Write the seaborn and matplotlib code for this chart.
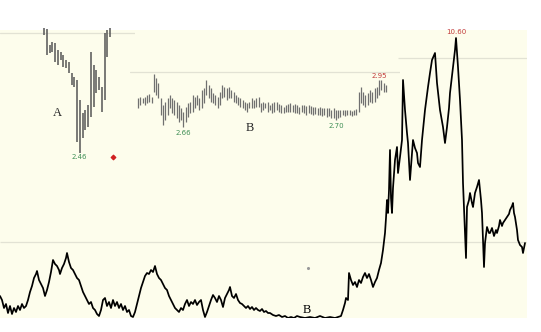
import numpy as np
import pandas as pd
import matplotlib
matplotlib.use("Agg")
import matplotlib.pyplot as plt
import seaborn as sns

# ---------------- main price history (day index, price level) ----------------
main_left = [(0, 22), (2, 18), (4, 10), (6, 14), (8, 5), (10, 12), (12, 4), (14, 10), (16, 6), (18, 12),
             (20, 8), (22, 14), (24, 10), (26, 12), (28, 18), (30, 26), (32, 32), (34, 40), (36, 44), (37, 47),
             (39, 38), (41, 34), (43, 30), (45, 22), (47, 28), (49, 36), (51, 46), (53, 58), (55, 54), (57, 52),
             (59, 48), (60, 44), (62, 50), (64, 54), (66, 60), (67, 65), (69, 56), (71, 50), (73, 48), (75, 44),
             (77, 40), (79, 38), (81, 32), (83, 26), (85, 22), (87, 18), (89, 14), (91, 16), (93, 10), (95, 8),
             (97, 4), (99, 2), (101, 8), (103, 18), (105, 20), (107, 12), (109, 16), (111, 10), (113, 18), (115, 12),
             (117, 16), (119, 10), (121, 14), (123, 8), (125, 12), (127, 6), (129, 8), (131, 2), (133, 1), (135, 6),
             (137, 14), (139, 22), (141, 30), (143, 36), (145, 42), (147, 45), (149, 44), (151, 48), (153, 46), (155, 52),
             (157, 44), (159, 40), (161, 38), (163, 34), (165, 30), (167, 28), (169, 22), (171, 18), (173, 14), (175, 10),
             (177, 8), (179, 6)]
main_mid = [(181, 10), (183, 8), (185, 14), (187, 18), (189, 12), (191, 16), (193, 14), (195, 18), (197, 13), (199, 16),
            (201, 18), (203, 8), (205, 1), (207, 6), (209, 12), (211, 18), (213, 23), (215, 20), (217, 16), (219, 22),
            (221, 18), (223, 11), (225, 20), (227, 24), (229, 28), (230, 31), (232, 22), (234, 20), (236, 24), (238, 18),
            (240, 15), (242, 14), (244, 12), (246, 10), (248, 12), (250, 9), (252, 11), (254, 8), (256, 10), (258, 8),
            (260, 7), (262, 9), (264, 6), (266, 7), (268, 5), (270, 5), (273, 3), (276, 2), (279, 3), (282, 1),
            (285, 2), (288, 0), (291, 1), (294, 0), (297, 2), (300, 1), (305, 0), (310, 1), (315, 0), (320, 2),
            (325, 0), (330, 1), (335, 0), (338, 1)]
main_right = [(341, 2), (343, 8), (345, 15), (346, 20), (348, 18), (349, 45), (351, 38), (353, 33), (355, 36), (357, 31),
              (359, 38), (361, 35), (363, 41), (365, 45), (367, 40), (369, 44), (371, 38), (373, 31), (375, 36), (377, 40),
              (379, 48), (381, 55), (383, 68), (385, 85), (386, 100), (387, 118), (388, 105), (389, 128), (390, 168), (391, 120),
              (392, 105), (393, 130), (395, 158), (397, 171), (398, 145), (400, 161), (402, 178), (403, 238), (405, 208), (407, 185),
              (408, 175), (410, 138), (413, 178), (415, 170), (417, 165), (418, 155), (420, 151), (422, 178), (425, 208), (428, 231),
              (430, 245), (432, 258), (435, 265), (437, 235), (440, 208), (443, 191), (445, 175), (447, 191), (449, 210), (450, 225),
              (453, 251), (455, 268), (456, 280), (458, 251), (460, 218), (462, 178), (463, 135), (464, 110), (465, 85), (466, 60),
              (467, 111), (469, 118), (470, 125), (472, 115), (473, 111), (475, 125), (477, 131), (479, 138), (481, 118), (482, 105),
              (483, 78), (484, 51), (485, 75), (487, 91), (489, 85), (490, 85), (492, 90), (494, 82), (496, 88), (497, 85),
              (499, 92), (500, 98), (502, 92), (503, 95), (505, 98), (507, 101), (509, 104), (510, 108), (512, 112), (513, 115),
              (514, 105), (515, 101), (517, 88), (518, 78), (520, 73), (522, 71), (523, 65), (525, 75)]
main_ref_levels = [76, 260]
main_ref_from = [0, 398]
main_peak_label = "10.60"
main_b_label = ("B", 307, 8)

# ---------------- inset A bars (high, low) ----------------
a_high = [137, 136, 120, 123, 122, 115, 113, 110, 105, 103, 92, 88, 85, 65, 52, 55, 60, 113, 100, 95, 88, 78, 132, 135, 137]
a_low = [130, 110, 112, 113, 103, 100, 105, 98, 97, 92, 80, 78, 23, 12, 27, 35, 38, 48, 58, 72, 75, 53, 65, 108, 128]
a_ref_level = 132
a_low_label = "2.46"
a_signal = [(25.1, 8)]

# ---------------- inset B bars (high, low) ----------------
b_high = [42, 43, 42, 43, 45, 46, 43, 66, 62, 57, 42, 35, 38, 42, 45, 42, 40, 38, 35, 32,
          28, 33, 37, 38, 45, 43, 45, 42, 50, 52, 60, 55, 52, 47, 45, 43, 48, 55, 53, 52,
          53, 50, 48, 45, 43, 42, 40, 38, 37, 38, 42, 40, 42, 43,
          37, 38, 37, 38, 35, 37, 38, 38, 36, 35, 33, 35, 36, 37, 35, 36, 35, 33, 35, 35,
          34, 35, 34, 33, 33, 32, 33, 32, 32, 32, 32, 30, 32, 30, 30, 30, 30, 30, 30, 30,
          29, 30, 31, 48, 53, 48, 45, 47, 50, 48, 52, 53, 60, 60, 57, 55]
b_low = [32, 35, 37, 35, 37, 38, 37, 48, 45, 42, 25, 15, 20, 25, 32, 27, 25, 22, 18, 20,
         13, 18, 23, 27, 28, 32, 35, 30, 32, 37, 45, 42, 38, 37, 35, 32, 35, 42, 43, 40,
         42, 42, 38, 37, 35, 33, 32, 30, 28, 32, 32, 32, 33, 33,
         28, 30, 32, 28, 30, 27, 28, 30, 28, 27, 27, 28, 28, 28, 28, 27, 27, 26, 28, 27,
         25, 27, 26, 25, 26, 25, 25, 24, 25, 23, 24, 22, 22, 20, 22, 23, 25, 24, 25, 25,
         24, 25, 25, 28, 37, 35, 33, 35, 38, 37, 38, 42, 45, 50, 48, 48]
b_ref_level = 68
b_low_labels = [(20, "2.66"), (87, "2.70")]
b_high_label = (106, "2.95")
b_text = ("B", 49.2, 12)

CREAM = "#FDFDEC"
REF = "#E2E2D4"
GREEN = "#3F8F55"
RED = "#C23B3B"

sns.set_theme(style="white")
plt.rcParams["font.family"] = ["DejaVu Sans"]

W, H = 541, 332
fig = plt.figure(figsize=(W / 100, H / 100), dpi=100)
fig.patch.set_facecolor("white")


def px_axes(x0, y0, x1, y1):
    return fig.add_axes([x0 / W, (H - y1) / H, (x1 - x0) / W, (y1 - y0) / H])


# ---- main chart ----
ax = px_axes(0, 30, 527, 318)
ax.set_facecolor(CREAM)
for s in ax.spines.values():
    s.set_visible(False)
main = pd.DataFrame(main_left + main_mid + main_right, columns=["day", "level"])
ax.set_xlim(0, 527)
ax.set_ylim(0, 288)
for lvl, x0 in zip(main_ref_levels, main_ref_from):
    ax.hlines(lvl, x0, 527, color=REF, lw=0.9, zorder=1)
sns.lineplot(data=main, x="day", y="level", color="black", lw=1.25, ax=ax,
             estimator=None, sort=False, zorder=3)
ax.set_xticks([]); ax.set_yticks([])
ax.set_xlabel(""); ax.set_ylabel("")
pk = main.loc[main["level"].idxmax()]
ax.annotate(main_peak_label, xy=(pk["day"], pk["level"]), xytext=(0, 2), textcoords="offset points",
            ha="center", va="bottom", fontsize=5, color=RED)
ax.text(main_b_label[1], main_b_label[2], main_b_label[0], family="Liberation Serif",
        fontsize=9, ha="center", va="center", color="black")
ax.scatter([308], [50], s=1.5, color="#999999", zorder=2)

# ---- inset A ----
axa = px_axes(0, 28, 135, 165)
axa.set_axis_off()
ia = np.arange(len(a_high))
axa.set_xlim(-16, 33.09)
axa.set_ylim(0, 137)
axa.axhline(a_ref_level, color=REF, lw=0.9, zorder=1)
axa.vlines(ia, a_low, a_high, color="#555555", lw=1.1, zorder=3)
amin = int(np.argmin(a_low))
axa.annotate(a_low_label, xy=(amin, a_low[amin]), xytext=(0, -1), textcoords="offset points",
             ha="center", va="top", fontsize=5, color=GREEN)
axa.text(4.7, 52, "A", family="Liberation Serif", fontsize=9, ha="center", va="center")
sx, sy = zip(*a_signal)
axa.scatter(sx, sy, marker="D", s=5, color="#D02020", zorder=4)

# ---- inset B ----
axb = px_axes(130, 60, 400, 140)
axb.set_axis_off()
ib = np.arange(len(b_high))
axb.set_xlim(-3.52, 115.2)
axb.set_ylim(0, 80)
axb.axhline(b_ref_level, color=REF, lw=0.9, zorder=1)
axb.vlines(ib, b_low, b_high, color="#707070", lw=0.9, zorder=3)
for i, lab in b_low_labels:
    axb.annotate(lab, xy=(i, b_low[i]), xytext=(0, -2), textcoords="offset points",
                 ha="center", va="top", fontsize=5, color=GREEN)
hi_i, hi_lab = b_high_label
axb.annotate(hi_lab, xy=(hi_i, b_high[hi_i]), xytext=(0, 1), textcoords="offset points",
             ha="center", va="bottom", fontsize=5, color=RED)
axb.text(b_text[1], b_text[2], b_text[0], family="Liberation Serif", fontsize=9,
         ha="center", va="center")

fig.savefig("out.png", dpi=100, facecolor="white")
